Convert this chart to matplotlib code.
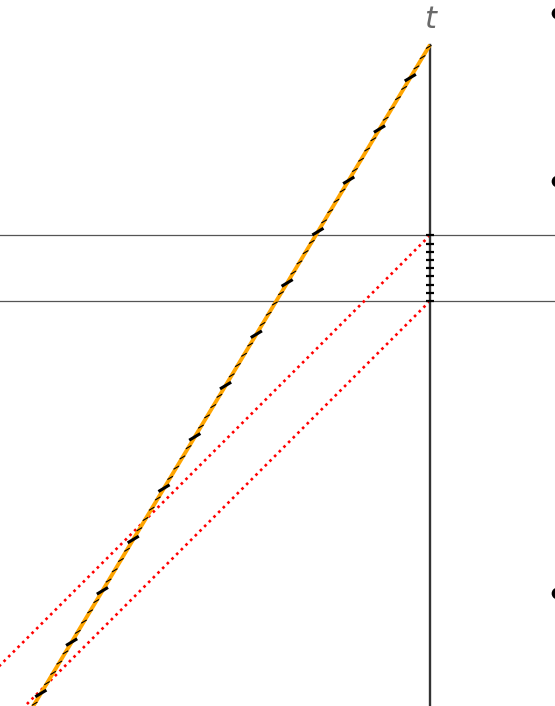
import numpy as np
import matplotlib
matplotlib.use('Agg')
import matplotlib.pyplot as plt
from matplotlib.collections import LineCollection

# ---- data (units: Earth clock ticks; c = 1) ----
v = 0.6                     # traveller speed
t_arrive = 31.2             # Earth time at which traveller reaches the t axis
tau_end = 63.2              # traveller clock reading at arrival
tau_ticks = list(range(-1, 64))          # traveller clock ticks
tau_major = list(range(0, 61, 5))        # traveller major ticks
earth_ticks = [0, 1, 2, 3, 4, 5, 6, 7, 8]  # Earth clock ticks between signals
signal_times = [0, 8]                    # reception of light signals on Earth
far_x = 15.5                             # distant objects (right edge)
far_t = [35.1, 14.6, -35.6]

# ---- geometry ----
W, H = 555, 706
s = 8.21                    # px per unit
x_axis_px, y0_px, y8_px = 430, 301.0, 235.3
xmin, xmax = -x_axis_px / s, (W - x_axis_px) / s
ymin, ymax = -(H - y0_px) / s, 8 + y8_px / s

gamma = 1 / np.sqrt(1 - v**2)

fig = plt.figure(figsize=(W / 100, H / 100), dpi=100)
ax = fig.add_axes([0, 0, 1, 1])
ax.set_xlim(xmin, xmax)
ax.set_ylim(ymin, ymax)
ax.set_aspect('auto')
ax.axis('off')

# horizontal lines at signal reception times
for ts in signal_times:
    ax.axhline(ts, color='#555555', lw=0.9, zorder=1)

# light signals (red dotted)
for ts in signal_times:
    tt = np.array([ts, ts - 80])
    ax.plot(tt - ts, tt, color='#ff0000', lw=1.9, linestyle=(0, (1, 1.5)),
            dash_capstyle='butt', zorder=2)

# t axis
ax.plot([0, 0], [ymin - 5, t_arrive], color='#333333', lw=1.7, zorder=3)
ax.text(0, ymax - 19 / s, 't', ha='center', va='center', fontsize=22,
        style='italic', color='#6a6a6a', family='DejaVu Sans')

# Earth clock ticks
hl = 3.6 / s
segs = [[(-hl, t), (hl, t)] for t in earth_ticks]
ax.add_collection(LineCollection(segs, colors='black', linewidths=1.6, zorder=5))

# traveller worldline
tw = np.array([ymin - 5, t_arrive])
ax.plot(-v * (t_arrive - tw), tw, color='#ffa500', lw=2.8, zorder=4,
        solid_capstyle='butt')

# traveller clock ticks (along lines of simultaneity, slope v)
d = np.array([1, v]) / np.sqrt(1 + v**2)

def tick_segs(taus, half):
    out = []
    for tau in taus:
        t = t_arrive - gamma * (tau_end - tau)
        x = -v * (t_arrive - t)
        c = np.array([x, t])
        out.append([tuple(c - half * d), tuple(c + half * d)])
    return out

minor = [tau for tau in tau_ticks if tau not in tau_major]
ax.add_collection(LineCollection(tick_segs(minor, 3.2 / s), colors='black',
                                 linewidths=0.8, zorder=6))
ax.add_collection(LineCollection(tick_segs(tau_major, 6.5 / s), colors='black',
                                 linewidths=2.2, zorder=7))

# distant objects
ax.scatter([far_x] * len(far_t), far_t, s=55, color='black', zorder=8)

fig.savefig('out.png', dpi=100)
